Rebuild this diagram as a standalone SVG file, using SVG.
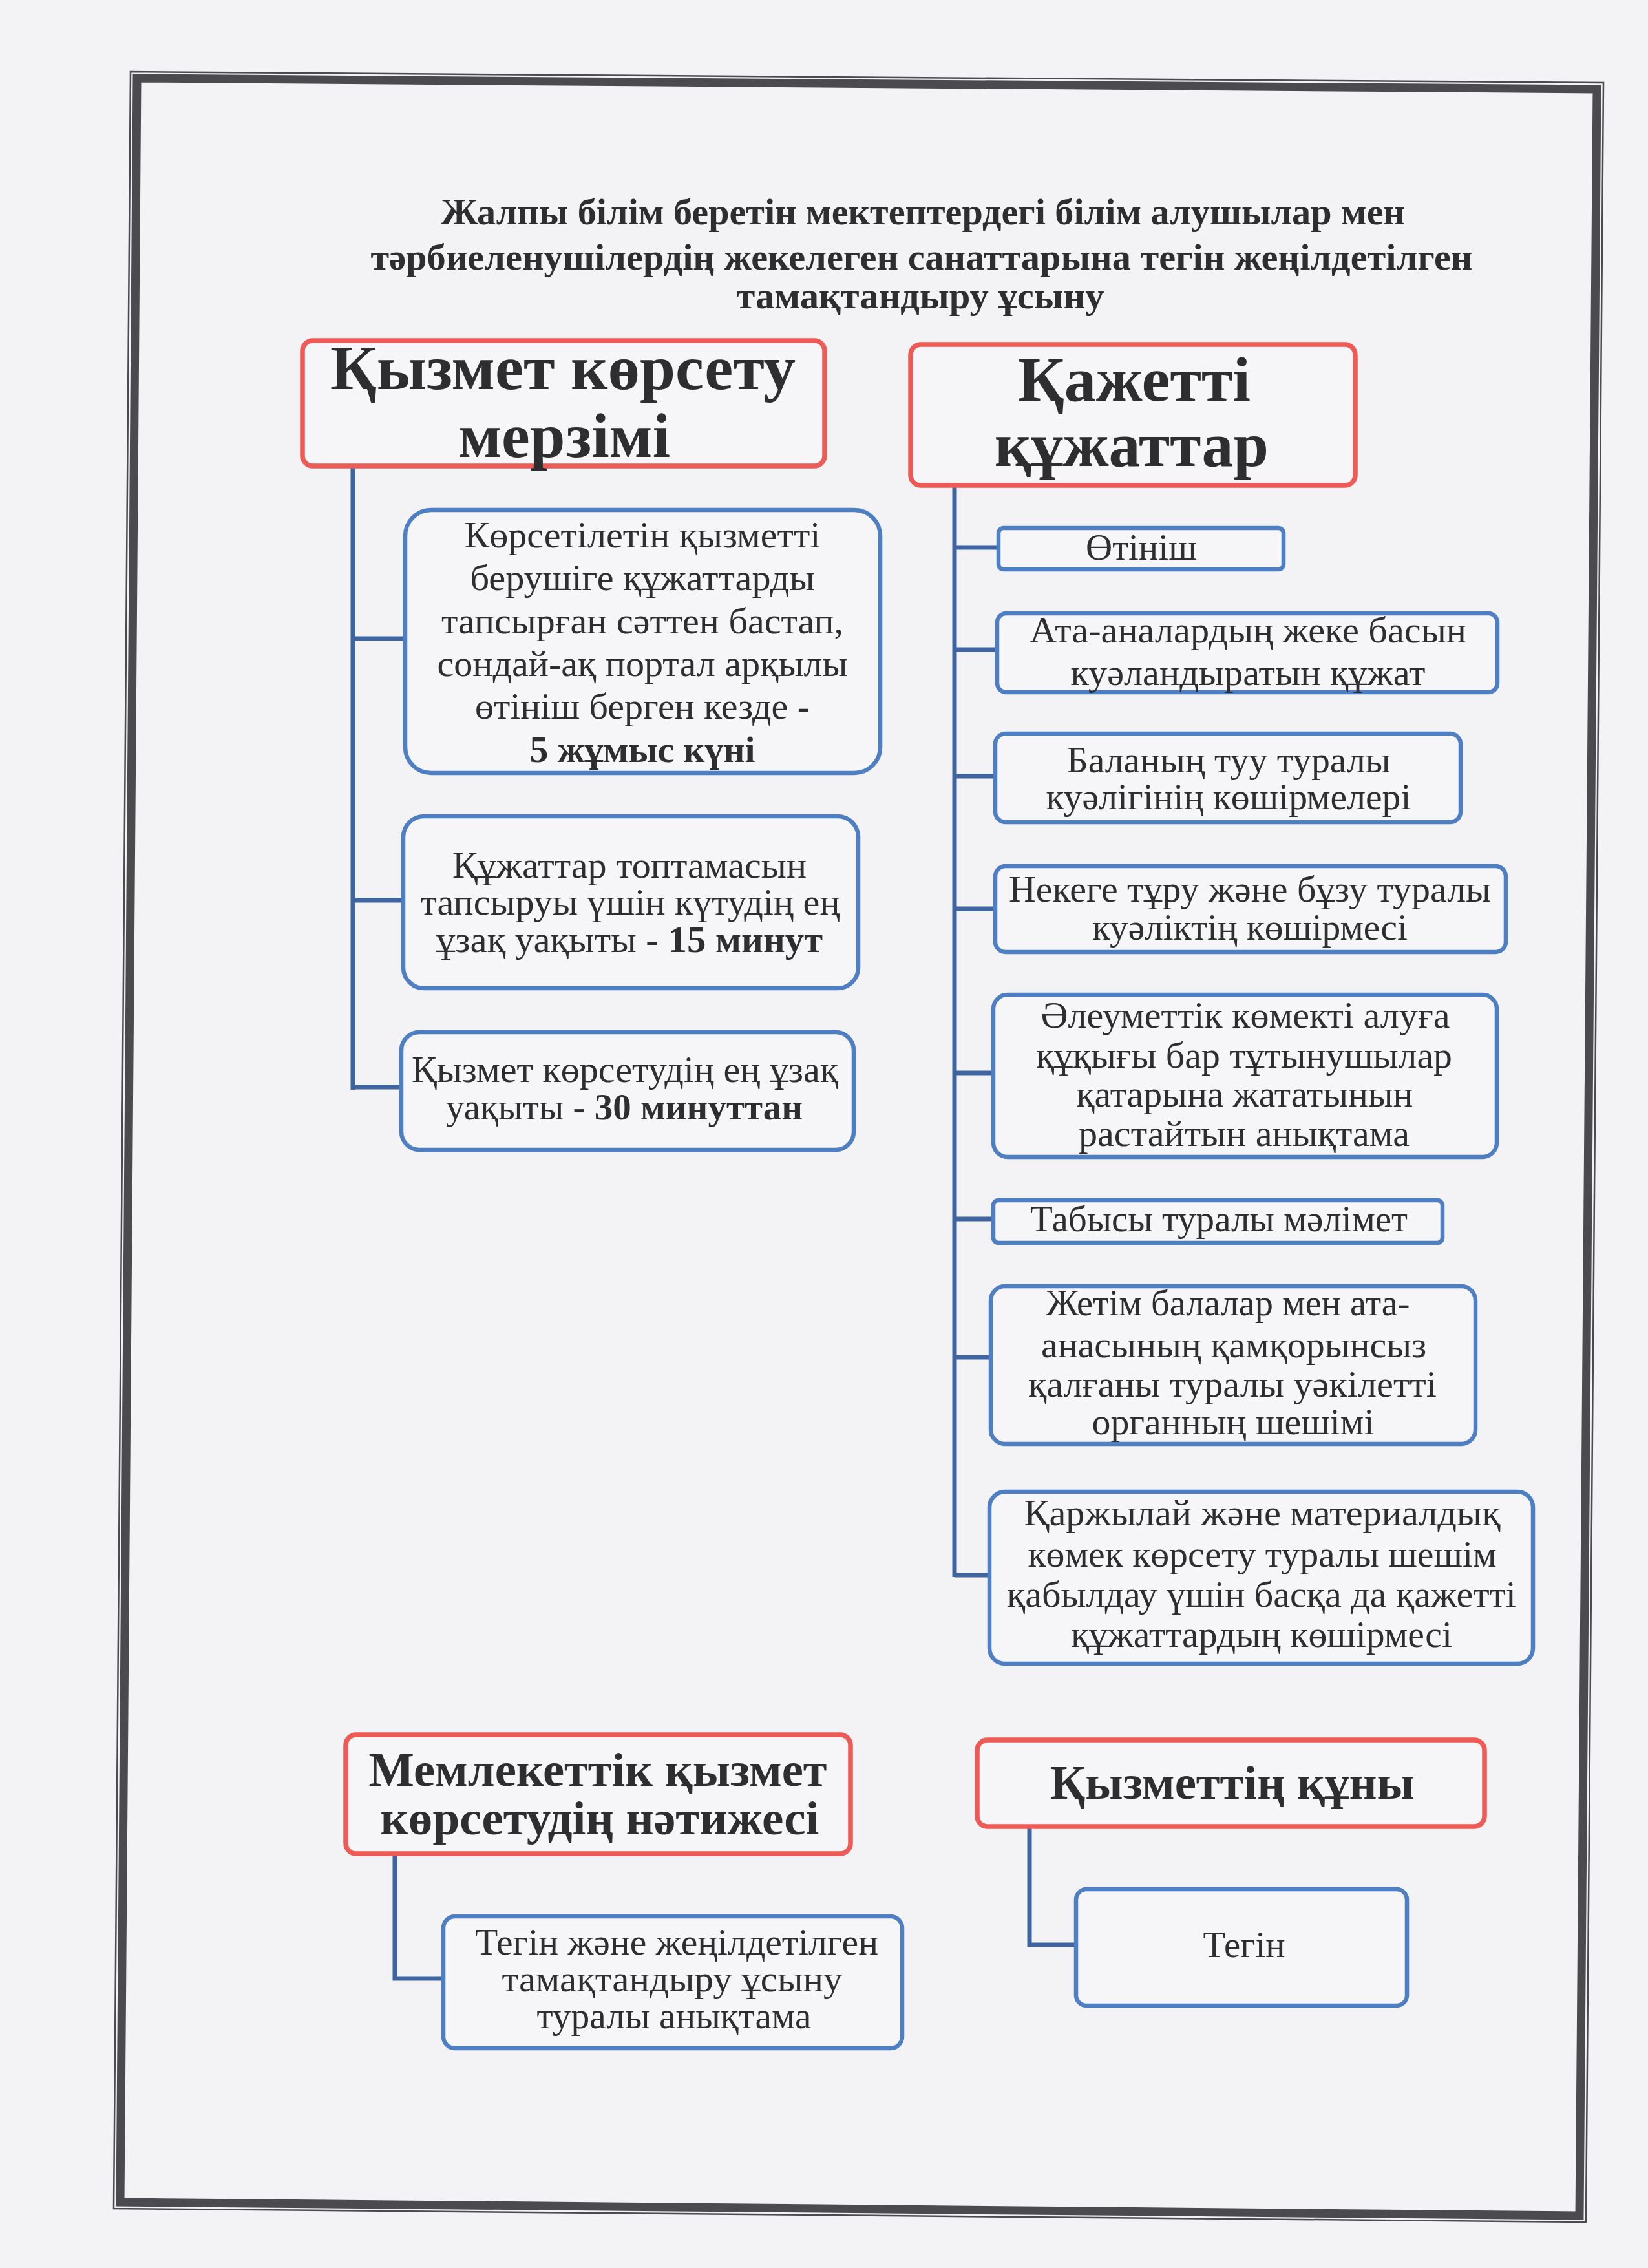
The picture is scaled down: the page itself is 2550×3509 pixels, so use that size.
<svg xmlns="http://www.w3.org/2000/svg" width="2550" height="3509" viewBox="0 0 2550 3509">
<style>
.bg{fill:#f3f3f5}
.frameThick{fill:none;stroke:#4a4a4f;stroke-width:13;stroke-linejoin:miter}
.frameThin{fill:none;stroke:#4a4a4f;stroke-width:2.5;stroke-linejoin:miter}
.hdr{fill:#f6f6f8;stroke:#ee5a55;stroke-width:7.5}
.box{fill:#f6f6f8;stroke:#4d7fc2;stroke-width:6.5}
.conn{fill:none;stroke:#3f65a0;stroke-width:7;stroke-linecap:butt;stroke-linejoin:miter}
text{font-family:"Liberation Serif","Times New Roman",serif;fill:#2e2e30;text-anchor:middle}
.title{font-size:57px;font-weight:bold}
.h1{font-size:98px;font-weight:bold}
.h2{font-size:75px;font-weight:bold}
.t{font-size:58px}
.tr{font-size:57px}
.b{font-weight:bold}
</style>
<rect class="bg" x="0" y="0" width="2550" height="3509"/>
<g id="frame">
<path class="frameThin" d="M202,111 L2481,128 L2454,3438 L176,3417 Z"/>
<path class="frameThick" d="M212,121 L2471,138 L2444,3428 L186,3407 Z"/>
</g>
<g id="title">
<text class="title" x="1428" y="347" textLength="1492" lengthAdjust="spacingAndGlyphs">Жалпы білім беретін мектептердегі білім алушылар мен</text>
<text class="title" x="1426" y="417" textLength="1705" lengthAdjust="spacingAndGlyphs">тәрбиеленушілердің жекелеген санаттарына тегін жеңілдетілген</text>
<text class="title" x="1424" y="477" textLength="569" lengthAdjust="spacingAndGlyphs">тамақтандыру ұсыну</text>
</g>
<g id="connectors">
<path class="conn" d="M546,721 V1686 M546,988 H627 M546,1393 H624 M546,1682 H621"/>
<path class="conn" d="M1477,751 V2440 M1477,847 H1545 M1477,1005 H1543 M1477,1201 H1540 M1477,1406 H1540 M1477,1660 H1537 M1477,1886 H1537 M1477,2100 H1533 M1477,2437 H1531"/>
<path class="conn" d="M611,2868 V3061 H686"/>
<path class="conn" d="M1593,2826 V3009 H1665"/>
</g>
<g id="hdr-merzimi">
<rect class="hdr" x="468" y="527" width="808" height="194" rx="16"/>
<text class="h1" x="871" y="602" textLength="720" lengthAdjust="spacingAndGlyphs">Қызмет көрсету</text>
<text class="h1" x="873" y="707" textLength="328" lengthAdjust="spacingAndGlyphs">мерзімі</text>
</g>
<g id="hdr-qujattar">
<rect class="hdr" x="1409" y="533" width="688" height="218" rx="16"/>
<text class="h1" x="1755" y="620" textLength="360" lengthAdjust="spacingAndGlyphs">Қажетті</text>
<text class="h1" x="1751" y="721" textLength="424" lengthAdjust="spacingAndGlyphs">құжаттар</text>
</g>
<g id="box-5kun">
<rect class="box" x="627" y="789" width="735" height="407" rx="40"/>
<text class="t" x="994" y="847" textLength="551" lengthAdjust="spacingAndGlyphs">Көрсетілетін қызметті</text>
<text class="t" x="994" y="913" textLength="533" lengthAdjust="spacingAndGlyphs">берушіге құжаттарды</text>
<text class="t" x="994" y="980" textLength="622" lengthAdjust="spacingAndGlyphs">тапсырған сәттен бастап,</text>
<text class="t" x="994" y="1046" textLength="635" lengthAdjust="spacingAndGlyphs">сондай-ақ портал арқылы</text>
<text class="t" x="994" y="1112" textLength="518" lengthAdjust="spacingAndGlyphs">өтініш берген кезде -</text>
<text class="t b" x="994" y="1179" textLength="349" lengthAdjust="spacingAndGlyphs">5 жұмыс күні</text>
</g>
<g id="box-15min">
<rect class="box" x="624" y="1263" width="704" height="266" rx="32"/>
<text class="t" x="974" y="1358" textLength="548" lengthAdjust="spacingAndGlyphs">Құжаттар топтамасын</text>
<text class="t" x="975" y="1415" textLength="649" lengthAdjust="spacingAndGlyphs">тапсыруы үшін күтудің ең</text>
<text class="t" x="974" y="1473" textLength="598" lengthAdjust="spacingAndGlyphs">ұзақ уақыты <tspan class="b">- 15 минут</tspan></text>
</g>
<g id="box-30min">
<rect class="box" x="621" y="1597" width="700" height="182" rx="28"/>
<text class="t" x="967" y="1674" textLength="660" lengthAdjust="spacingAndGlyphs">Қызмет көрсетудің ең ұзақ</text>
<text class="t" x="966" y="1732" textLength="552" lengthAdjust="spacingAndGlyphs">уақыты <tspan class="b">- 30 минуттан</tspan></text>
</g>
<g id="doc-otinish">
<rect class="box" x="1545" y="817" width="441" height="64" rx="8"/>
<text class="tr" x="1766" y="866" textLength="172" lengthAdjust="spacingAndGlyphs">Өтініш</text>
</g>
<g id="doc-ata-ana">
<rect class="box" x="1543" y="949" width="774" height="122" rx="14"/>
<text class="tr" x="1931" y="994" textLength="676" lengthAdjust="spacingAndGlyphs">Ата-аналардың жеке басын</text>
<text class="tr" x="1931" y="1060" textLength="549" lengthAdjust="spacingAndGlyphs">куәландыратын құжат</text>
</g>
<g id="doc-tuu">
<rect class="box" x="1540" y="1135" width="720" height="137" rx="16"/>
<text class="tr" x="1901" y="1195" textLength="501" lengthAdjust="spacingAndGlyphs">Баланың туу туралы</text>
<text class="tr" x="1901" y="1252" textLength="565" lengthAdjust="spacingAndGlyphs">куәлігінің көшірмелері</text>
</g>
<g id="doc-neke">
<rect class="box" x="1540" y="1340" width="790" height="133" rx="16"/>
<text class="tr" x="1934" y="1395" textLength="746" lengthAdjust="spacingAndGlyphs">Некеге тұру және бұзу туралы</text>
<text class="tr" x="1934" y="1454" textLength="488" lengthAdjust="spacingAndGlyphs">куәліктің көшірмесі</text>
</g>
<g id="doc-aleumettik">
<rect class="box" x="1537" y="1539" width="779" height="251" rx="22"/>
<text class="tr" x="1927" y="1590" textLength="633" lengthAdjust="spacingAndGlyphs">Әлеуметтік көмекті алуға</text>
<text class="tr" x="1925" y="1652" textLength="644" lengthAdjust="spacingAndGlyphs">құқығы бар тұтынушылар</text>
<text class="tr" x="1926" y="1712" textLength="521" lengthAdjust="spacingAndGlyphs">қатарына жататынын</text>
<text class="tr" x="1925" y="1773" textLength="512" lengthAdjust="spacingAndGlyphs">растайтын анықтама</text>
</g>
<g id="doc-tabys">
<rect class="box" x="1537" y="1857" width="695" height="66" rx="8"/>
<text class="tr" x="1886" y="1905" textLength="584" lengthAdjust="spacingAndGlyphs">Табысы туралы мәлімет</text>
</g>
<g id="doc-zhetim">
<rect class="box" x="1533" y="1990" width="750" height="244" rx="22"/>
<text class="tr" x="1900" y="2035" textLength="563" lengthAdjust="spacingAndGlyphs">Жетім балалар мен ата-</text>
<text class="tr" x="1909" y="2100" textLength="596" lengthAdjust="spacingAndGlyphs">анасының қамқорынсыз</text>
<text class="tr" x="1907" y="2161" textLength="632" lengthAdjust="spacingAndGlyphs">қалғаны туралы уәкілетті</text>
<text class="tr" x="1908" y="2219" textLength="437" lengthAdjust="spacingAndGlyphs">органның шешімі</text>
</g>
<g id="doc-qarzhy">
<rect class="box" x="1531" y="2308" width="841" height="266" rx="24"/>
<text class="tr" x="1953" y="2360" textLength="737" lengthAdjust="spacingAndGlyphs">Қаржылай және материалдық</text>
<text class="tr" x="1953" y="2424" textLength="725" lengthAdjust="spacingAndGlyphs">көмек көрсету туралы шешім</text>
<text class="tr" x="1952" y="2486" textLength="788" lengthAdjust="spacingAndGlyphs">қабылдау үшін басқа да қажетті</text>
<text class="tr" x="1952" y="2548" textLength="590" lengthAdjust="spacingAndGlyphs">құжаттардың көшірмесі</text>
</g>
<g id="hdr-natizhe">
<rect class="hdr" x="535" y="2684" width="781" height="184" rx="16"/>
<text class="h2" x="925" y="2763" textLength="709" lengthAdjust="spacingAndGlyphs">Мемлекеттік қызмет</text>
<text class="h2" x="928" y="2838" textLength="679" lengthAdjust="spacingAndGlyphs">көрсетудің нәтижесі</text>
</g>
<g id="hdr-quny">
<rect class="hdr" x="1512" y="2692" width="785" height="134" rx="16"/>
<text class="h2" x="1907" y="2783" textLength="564" lengthAdjust="spacingAndGlyphs">Қызметтің құны</text>
</g>
<g id="res-anyqtama">
<rect class="box" x="686" y="2965" width="710" height="204" rx="18"/>
<text class="t" x="1047" y="3024" textLength="624" lengthAdjust="spacingAndGlyphs">Тегін және жеңілдетілген</text>
<text class="t" x="1040" y="3081" textLength="527" lengthAdjust="spacingAndGlyphs">тамақтандыру ұсыну</text>
<text class="t" x="1043" y="3138" textLength="425" lengthAdjust="spacingAndGlyphs">туралы анықтама</text>
</g>
<g id="cost-tegin">
<rect class="box" x="1665" y="2923" width="512" height="180" rx="16"/>
<text class="t" x="1925" y="3028" textLength="127" lengthAdjust="spacingAndGlyphs">Тегін</text>
</g>
</svg>
